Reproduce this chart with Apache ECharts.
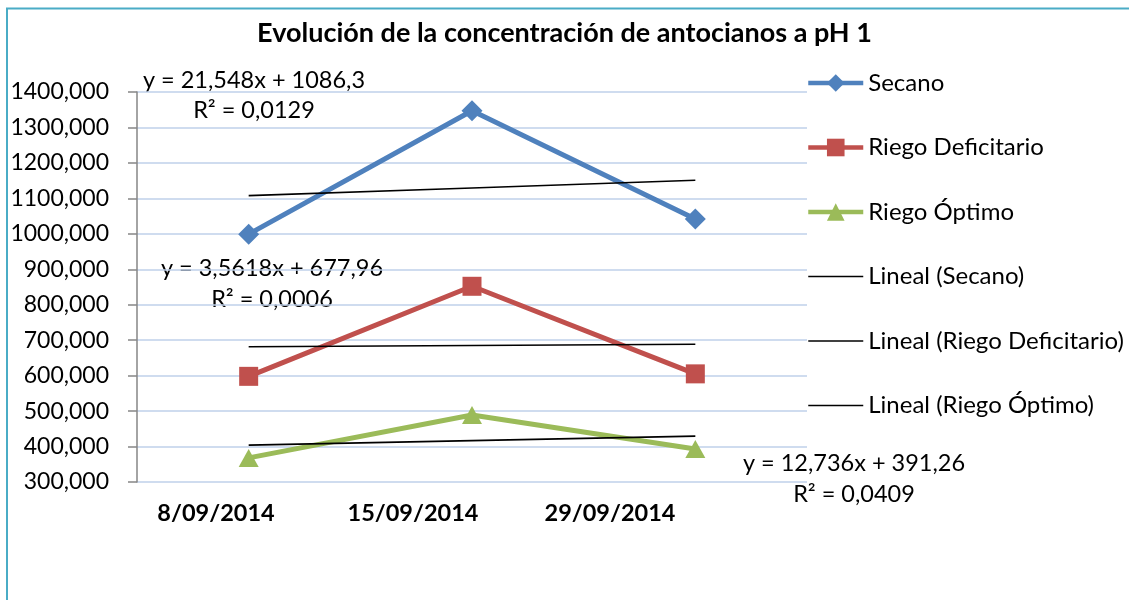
<!DOCTYPE html>
<html>
<head>
<meta charset="utf-8">
<title>Evolución de la concentración de antocianos a pH 1</title>
<script src="https://cdn.jsdelivr.net/npm/echarts@6/dist/echarts.min.js"></script>
<style>
  html, body { margin: 0; padding: 0; background: #fff; }
  #chart { width: 1129px; height: 600px; }
</style>
</head>
<body>
<div id="chart"></div>
<script>
const categories = ['8/09/2014', '15/09/2014', '29/09/2014']
const secano = [999, 1347, 1042]
const riegoDeficitario = [598, 852, 605]
const riegoOptimo = [368, 489, 393]
// lineas de tendencia (Excel)
const linealSecano = [1107.8, 1129.4, 1150.9]
const linealDeficitario = [681.5, 685.1, 688.6]
const linealOptimo = [404.0, 416.7, 429.5]
const yMin = 300
const yMax = 1400
const yStep = 100

const font = 'Lato, "Open Sans", sans-serif'
const lineIcon = 'path://M0,0H55V1.5H0Z'

const chart = echarts.init(document.getElementById('chart'))

function eqText(x, y, text) {
  return {
    type: 'text',
    x: x,
    y: y,
    style: {
      text: text,
      fill: '#000',
      font: '23.5px ' + font,
      align: 'center',
      verticalAlign: 'middle'
    }
  }
}

chart.setOption({
  animation: false,
  textStyle: { fontFamily: font },
  title: {
    text: 'Evolución de la concentración de antocianos a pH 1',
    left: 'center',
    top: 15,
    textStyle: { fontSize: 27, fontWeight: 'bold', color: '#000', fontFamily: font }
  },
  legend: {
    orient: 'vertical',
    left: 806,
    top: 71,
    padding: 0,
    itemWidth: 55,
    itemHeight: 22,
    itemGap: 40.5,
    lineStyle: { width: 4.5 },
    textStyle: { fontSize: 24, color: '#000', lineHeight: 24 },
    data: [
      'Secano',
      'Riego Deficitario',
      'Riego Óptimo',
      { name: 'Lineal (Secano)', icon: lineIcon },
      { name: 'Lineal (Riego Deficitario)', icon: lineIcon },
      { name: 'Lineal (Riego Óptimo)', icon: lineIcon }
    ]
  },
  grid: [
    { left: 137, right: 322, top: 92, bottom: 118 },
    // solo para las etiquetas de fecha
    { left: 117.5, width: 591, top: 92, bottom: 118 }
  ],
  xAxis: [{
    type: 'category',
    data: categories,
    axisLine: { show: false },
    axisTick: { show: false },
    axisLabel: { show: false }
  }, {
    type: 'category',
    gridIndex: 1,
    data: categories,
    axisLine: { show: false },
    axisTick: { show: false },
    axisLabel: { margin: 19, fontSize: 23.5, fontWeight: 'bold', color: '#000' }
  }],
  yAxis: [{
    type: 'value',
    min: yMin,
    max: yMax,
    interval: yStep,
    axisLine: { show: true, lineStyle: { color: '#868686', width: 1.5 } },
    axisTick: { show: true, length: 9, lineStyle: { color: '#868686', width: 1.5 } },
    axisLabel: {
      margin: 28,
      fontSize: 23,
      color: '#000',
      formatter: v => v + ',000'
    },
    splitLine: { lineStyle: { color: '#BFD0EA', width: 1.5 } }
  }, {
    type: 'value',
    gridIndex: 1,
    min: yMin,
    max: yMax,
    show: false
  }],
  series: [{
    name: 'Secano',
    type: 'line',
    data: secano,
    symbol: 'diamond',
    symbolSize: 21,
    color: '#4F81BD',
    lineStyle: { width: 5 }
  }, {
    name: 'Riego Deficitario',
    type: 'line',
    data: riegoDeficitario,
    symbol: 'rect',
    symbolSize: 19,
    color: '#C0504D',
    lineStyle: { width: 5 }
  }, {
    name: 'Riego Óptimo',
    type: 'line',
    data: riegoOptimo,
    symbol: 'triangle',
    symbolSize: [20, 18],
    color: '#9BBB59',
    lineStyle: { width: 5 }
  }, {
    name: 'Lineal (Secano)',
    type: 'line',
    data: linealSecano,
    symbol: 'none',
    color: '#000',
    lineStyle: { width: 1.6 }
  }, {
    name: 'Lineal (Riego Deficitario)',
    type: 'line',
    data: linealDeficitario,
    symbol: 'none',
    color: '#000',
    lineStyle: { width: 1.6 }
  }, {
    name: 'Lineal (Riego Óptimo)',
    type: 'line',
    data: linealOptimo,
    symbol: 'none',
    color: '#000',
    lineStyle: { width: 1.6 }
  }],
  graphic: [
    // marco del grafico
    {
      type: 'rect',
      shape: { x: 7, y: 8.5, width: 1300, height: 800 },
      style: { fill: 'none', stroke: '#4AACC6', lineWidth: 2 },
      silent: true
    },
    eqText(254, 80, 'y = 21,548x + 1086,3'),
    eqText(254, 110, 'R² = 0,0129'),
    eqText(272, 268, 'y = 3,5618x + 677,96'),
    eqText(272, 299, 'R² = 0,0006'),
    eqText(854, 463, 'y = 12,736x + 391,26'),
    eqText(854, 494, 'R² = 0,0409')
  ]
})
</script>
</body>
</html>
